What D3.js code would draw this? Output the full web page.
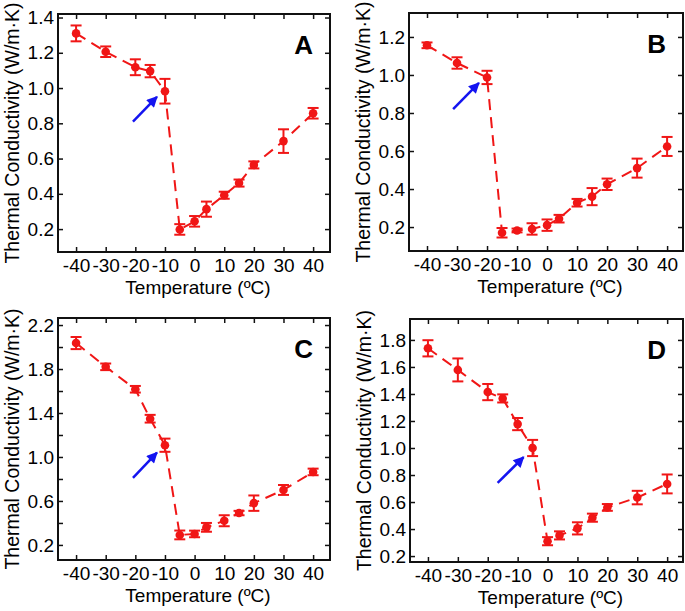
<!DOCTYPE html>
<html>
<head>
<meta charset="utf-8">
<script src="https://cdn.jsdelivr.net/npm/d3@7"></script>
<style>
  html, body { margin: 0; padding: 0; background: #fff; }
  svg { display: block; }
  text { font-family: "Liberation Sans", Arial, Helvetica, sans-serif; fill: #000; }
</style>
</head>
<body>
<svg id="chart" width="685" height="611"></svg>
<script>
// ---- data ----
const temps = [-40, -30, -20, -15, -10, -5, 0, 4, 10, 15, 20, 30, 40];
const xTicks = [-40, -30, -20, -10, 0, 10, 20, 30, 40];

const valuesA = [1.31, 1.206, 1.118, 1.096, 0.982, 0.198, 0.244, 0.313, 0.392, 0.461, 0.564, 0.699, 0.857];
const errorsA = [0.045, 0.03, 0.045, 0.035, 0.07, 0.03, 0.03, 0.043, 0.02, 0.02, 0.02, 0.067, 0.03];

const valuesB = [1.156, 1.063, 0.987, 0.17, 0.182, 0.19, 0.21, 0.244, 0.328, 0.36, 0.425, 0.51, 0.624];
const errorsB = [0.015, 0.03, 0.035, 0.025, 0.01, 0.03, 0.03, 0.02, 0.02, 0.045, 0.03, 0.05, 0.05];

const valuesC = [2.036, 1.82, 1.616, 1.348, 1.107, 0.291, 0.30, 0.36, 0.42, 0.49, 0.58, 0.70, 0.864];
const errorsC = [0.055, 0.03, 0.03, 0.035, 0.06, 0.04, 0.03, 0.04, 0.05, 0.02, 0.07, 0.045, 0.03];

const valuesD = [1.738, 1.578, 1.414, 1.367, 1.177, 1.0, 0.31, 0.353, 0.405, 0.484, 0.56, 0.633, 0.734];
const errorsD = [0.06, 0.085, 0.06, 0.03, 0.045, 0.06, 0.03, 0.03, 0.045, 0.03, 0.025, 0.05, 0.07];

const yTicksA = [0.2, 0.4, 0.6, 0.8, 1.0, 1.2, 1.4];
const yTicksB = [0.2, 0.4, 0.6, 0.8, 1.0, 1.2];
const yTicksC = [0.2, 0.4, 0.6, 0.8, 1.0, 1.2, 1.4, 1.6, 1.8, 2.0, 2.2];
const yLabelsC = [0.2, 0.6, 1.0, 1.4, 1.8, 2.2];
const yTicksD = [0.2, 0.4, 0.6, 0.8, 1.0, 1.2, 1.4, 1.6, 1.8];

// arrow annotations [tailX, tailY, tipX, tipY] in data units
const arrowA = [-20.8, 0.81, -12.7, 0.95];
const arrowB = [-31.3, 0.82, -22.7, 0.958];
const arrowC = [-20.8, 0.81, -12.7, 1.04];
const arrowD = [-16.7, 0.741, -8.0, 0.933];

const xTitle = "Temperature (ºC)";
const yTitle = "Thermal Conductivity (W/m·K)";

// ---- layout ----
const panels = [
  { letter: "A", values: valuesA, errors: errorsA, yTicks: yTicksA, yLabels: yTicksA, arrow: arrowA,
    box: { l: 58, r: 330, t: 14, b: 252 }, xDom: [-46.1, 45.7], yDom: [0.07, 1.42] },
  { letter: "B", values: valuesB, errors: errorsB, yTicks: yTicksB, yLabels: yTicksB, arrow: arrowB,
    box: { l: 409, r: 683, t: 13, b: 251 }, xDom: [-46.0, 45.3], yDom: [0.074, 1.326] },
  { letter: "C", values: valuesC, errors: errorsC, yTicks: yTicksC, yLabels: yLabelsC, arrow: arrowC,
    box: { l: 58, r: 330, t: 318, b: 560 }, xDom: [-46.1, 45.7], yDom: [0.063, 2.264] },
  { letter: "D", values: valuesD, errors: errorsD, yTicks: yTicksD, yLabels: yTicksD, arrow: arrowD,
    box: { l: 410, r: 683, t: 319, b: 562 }, xDom: [-46.0, 45.3], yDom: [0.156, 1.955] }
];

const RED = "#f01616";
const BLUE = "#1414f0";
const svg = d3.select("#chart");

svg.append("defs").append("marker")
  .attr("id", "ah").attr("viewBox", "0 0 10 10")
  .attr("refX", 9).attr("refY", 5)
  .attr("markerWidth", 5).attr("markerHeight", 4.4)
  .attr("markerUnits", "strokeWidth")
  .attr("orient", "auto")
  .append("path").attr("d", "M0,0 L10,5 L0,10 Z").attr("fill", BLUE);

panels.forEach(p => {
  const B = p.box;
  const x = d3.scaleLinear().domain(p.xDom).range([B.l, B.r]);
  const y = d3.scaleLinear().domain(p.yDom).range([B.b, B.t]);
  const g = svg.append("g");
  const fmt = d3.format(".1f");
  const tickLen = 5;

  // axes (inward ticks)
  const axB = d3.axisBottom(x).tickValues(xTicks).tickSizeInner(-tickLen).tickSizeOuter(0).tickPadding(7)
    .tickFormat(d => String(d));
  const axT = d3.axisTop(x).tickValues(xTicks).tickSizeInner(-tickLen).tickSizeOuter(0).tickFormat("");
  const axL = d3.axisLeft(y).tickValues(p.yTicks).tickSizeInner(-tickLen).tickSizeOuter(0).tickPadding(4)
    .tickFormat(d => p.yLabels.some(v => Math.abs(v - d) < 1e-6) ? fmt(d) : "");
  const axR = d3.axisRight(y).tickValues(p.yTicks).tickSizeInner(-tickLen).tickSizeOuter(0).tickFormat("");

  const styleAxis = sel => {
    sel.select(".domain").remove();
    sel.selectAll(".tick line").attr("stroke", "#111").attr("stroke-width", 1.5);
    sel.selectAll(".tick text").attr("font-size", 19).attr("fill", "#000")
      .attr("font-family", '"Liberation Sans", Arial, sans-serif');
  };
  g.append("g").attr("transform", `translate(0,${B.b})`).call(axB).call(styleAxis);
  g.append("g").attr("transform", `translate(0,${B.t})`).call(axT).call(styleAxis);
  g.append("g").attr("transform", `translate(${B.l},0)`).call(axL).call(styleAxis);
  g.append("g").attr("transform", `translate(${B.r},0)`).call(axR).call(styleAxis);

  // frame
  g.append("rect").attr("x", B.l).attr("y", B.t).attr("width", B.r - B.l).attr("height", B.b - B.t)
    .attr("fill", "none").attr("stroke", "#111").attr("stroke-width", 2);

  const data = temps.map((t, i) => ({ t, v: p.values[i], e: p.errors[i] }));

  // dashed connecting line
  g.append("path").datum(data)
    .attr("d", d3.line().x(d => x(d.t)).y(d => y(d.v)))
    .attr("fill", "none").attr("stroke", RED).attr("stroke-width", 2)
    .attr("stroke-dasharray", "11,7");

  // error bars
  const eb = g.append("g").attr("stroke", RED).attr("stroke-width", 2);
  data.forEach(d => {
    const cx = x(d.t), y0 = y(d.v - d.e), y1 = y(d.v + d.e);
    eb.append("line").attr("x1", cx).attr("x2", cx).attr("y1", y0).attr("y2", y1);
    eb.append("line").attr("x1", cx - 5.5).attr("x2", cx + 5.5).attr("y1", y0).attr("y2", y0);
    eb.append("line").attr("x1", cx - 5.5).attr("x2", cx + 5.5).attr("y1", y1).attr("y2", y1);
  });

  // markers
  g.append("g").selectAll("circle").data(data).join("circle")
    .attr("cx", d => x(d.t)).attr("cy", d => y(d.v)).attr("r", 4.3).attr("fill", RED);

  // arrow
  const a = p.arrow;
  g.append("line")
    .attr("x1", x(a[0])).attr("y1", y(a[1])).attr("x2", x(a[2])).attr("y2", y(a[3]))
    .attr("stroke", BLUE).attr("stroke-width", 2.5).attr("marker-end", "url(#ah)");

  // panel letter
  g.append("text").attr("x", B.r - 17).attr("y", B.t + 40).attr("text-anchor", "end")
    .attr("font-size", 26).attr("font-weight", "bold").text(p.letter);

  // axis titles
  g.append("text").attr("x", (B.l + B.r) / 2 + 4).attr("y", B.b + 42).attr("text-anchor", "middle")
    .attr("font-size", 19).text(xTitle);
  g.append("text")
    .attr("transform", `translate(${B.l - 39},${(B.t + B.b) / 2}) rotate(-90)`)
    .attr("text-anchor", "middle").attr("font-size", 19.5).text(yTitle);
});
</script>
</body>
</html>
